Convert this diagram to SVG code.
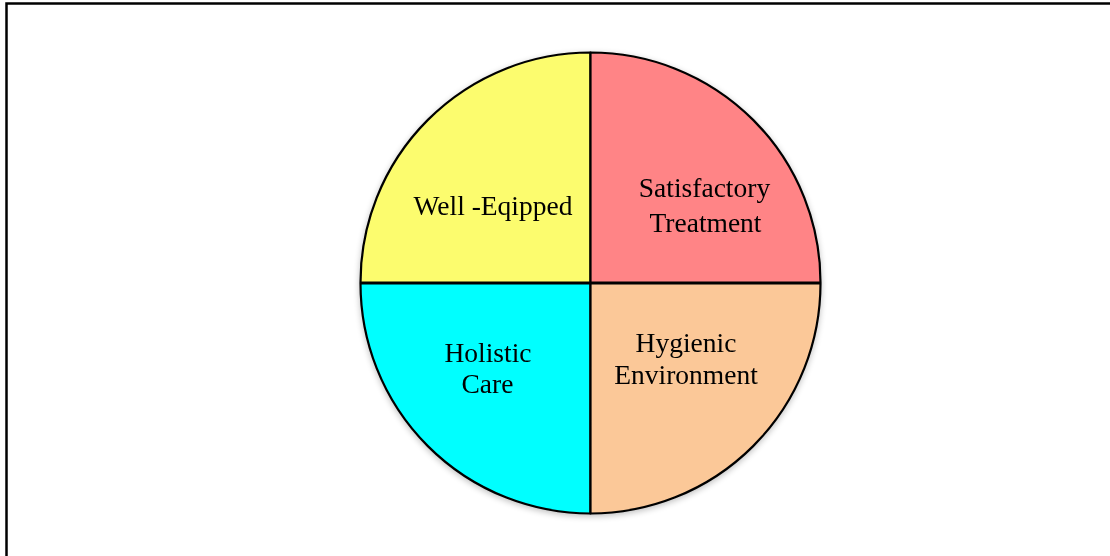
<svg xmlns="http://www.w3.org/2000/svg" width="1110" height="556" viewBox="0 0 1110 556">
<style>
.q{stroke:#000;stroke-width:2.2;stroke-linejoin:round}
.t{font-family:"Liberation Serif","Times New Roman",serif;font-size:27.5px;fill:#000;text-anchor:middle}
.frame{stroke:#000;stroke-width:2.5;fill:none}
</style>
<defs>
<filter id="sh" x="-10%" y="-10%" width="120%" height="120%">
<feGaussianBlur in="SourceAlpha" stdDeviation="3"/>
<feOffset dx="0" dy="2" result="b"/>
<feComponentTransfer><feFuncA type="linear" slope="0.25"/></feComponentTransfer>
<feMerge><feMergeNode/><feMergeNode in="SourceGraphic"/></feMerge>
</filter>
</defs>
<rect width="1110" height="556" fill="#fff"/>
<path class="frame" d="M6.5 556 V3.5 H1110"/>
<g filter="url(#sh)">
<g id="well-equipped">
<path class="q" fill="#FCFC6E" d="M590.5 282.5 H360.5 A230 230 0 0 1 590.5 52.5 Z"/>
<text class="t" x="493" y="215">Well -Eqipped</text>
</g>
<g id="satisfactory-treatment">
<path class="q" fill="#FF8486" d="M590.5 282.5 V52.5 A230 230 0 0 1 820.5 282.5 Z"/>
<text class="t" x="704.5" y="197">Satisfactory</text>
<text class="t" x="705.5" y="232">Treatment</text>
</g>
<g id="holistic-care">
<path class="q" fill="#00FFFF" d="M590.5 283.5 V513.5 A230 230 0 0 1 360.5 283.5 Z"/>
<text class="t" x="488" y="362">Holistic</text>
<text class="t" x="487.5" y="393">Care</text>
</g>
<g id="hygienic-environment">
<path class="q" fill="#FBC898" d="M590.5 283.5 H820.5 A230 230 0 0 1 590.5 513.5 Z"/>
<text class="t" x="686" y="352">Hygienic</text>
<text class="t" x="686" y="384">Environment</text>
</g>
</g>
<g id="connectors"/>
</svg>
